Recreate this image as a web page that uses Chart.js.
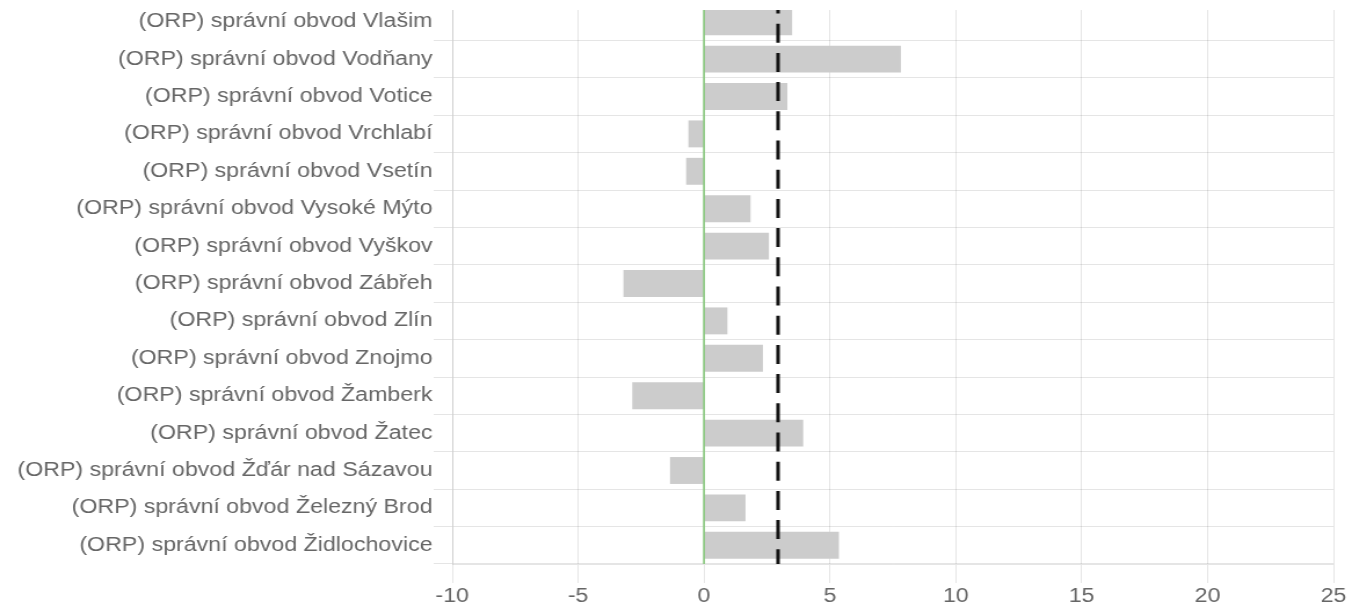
<!DOCTYPE html>
<html lang="cs">
<head>
  <meta charset="UTF-8">
  <title>ORP</title>
  <script src="https://cdn.jsdelivr.net/npm/chart.js"></script>
  <style>
    html, body { margin: 0; padding: 0; background: #fff; overflow: hidden; }
    .wrap { position: relative; width: 1352px; height: 611px; }
    /* graf je v originále vodorovně roztažený */
    #graf { display: block; width: 1352px; height: 611px; }
    .mask { position: absolute; left: 0; top: 0; width: 1352px; height: 10px; background: #fff; }
  </style>
</head>
<body>
<div class="wrap">
  <canvas id="graf" width="1166" height="611" style="width:1352px;height:611px"></canvas>
  <div class="mask"></div>
</div>

<script>
  const kategorie = [
    '(ORP) správní obvod Vlašim',
    '(ORP) správní obvod Vodňany',
    '(ORP) správní obvod Votice',
    '(ORP) správní obvod Vrchlabí',
    '(ORP) správní obvod Vsetín',
    '(ORP) správní obvod Vysoké Mýto',
    '(ORP) správní obvod Vyškov',
    '(ORP) správní obvod Zábřeh',
    '(ORP) správní obvod Zlín',
    '(ORP) správní obvod Znojmo',
    '(ORP) správní obvod Žamberk',
    '(ORP) správní obvod Žatec',
    '(ORP) správní obvod Žďár nad Sázavou',
    '(ORP) správní obvod Železný Brod',
    '(ORP) správní obvod Židlochovice'
  ];
  const hodnoty = [3.5, 7.82, 3.31, -0.62, -0.71, 1.85, 2.58, -3.2, 0.93, 2.34, -2.85, 3.94, -1.35, 1.65, 5.36];
  const prumer = 2.94;   // čárkovaná čára
  const nula = 0;        // zelená čára
  const osaX = { min: -10, max: 25, krok: 5 };

  const svisleCary = {
    id: 'svisleCary',
    afterDatasetsDraw(chart) {
      const { ctx, chartArea, scales } = chart;
      ctx.save();
      let x = scales.x.getPixelForValue(nula);
      ctx.strokeStyle = 'rgb(140, 200, 130)';
      ctx.lineWidth = 1.8;
      ctx.beginPath();
      ctx.moveTo(x, chartArea.top);
      ctx.lineTo(x, chartArea.bottom);
      ctx.stroke();

      x = scales.x.getPixelForValue(prumer);
      ctx.strokeStyle = '#151515';
      ctx.lineWidth = 3.1;
      ctx.setLineDash([19, 10.2]);
      ctx.lineDashOffset = 8.5;
      ctx.beginPath();
      ctx.moveTo(x, chartArea.top);
      ctx.lineTo(x, chartArea.bottom);
      ctx.stroke();
      ctx.restore();
    }
  };

  Chart.defaults.font.family = "'Liberation Sans', Arial, sans-serif";
  Chart.defaults.font.size = 20;
  Chart.defaults.color = '#666';

  new Chart(document.getElementById('graf'), {
    type: 'bar',
    data: {
      labels: kategorie,
      datasets: [{
        data: hodnoty,
        backgroundColor: 'rgb(204, 204, 204)',
        borderWidth: 0
      }]
    },
    options: {
      indexAxis: 'y',
      responsive: false,
      devicePixelRatio: 1,
      animation: false,
      layout: { padding: { top: 3, right: 16, bottom: 1, left: 0 } },
      plugins: { legend: { display: false }, tooltip: { enabled: false } },
      scales: {
        x: {
          min: osaX.min,
          max: osaX.max,
          ticks: { stepSize: osaX.krok, padding: 3, font: { size: 20, lineHeight: 1.05 } },
          grid: { color: 'rgba(0,0,0,0.1)', tickLength: 19 },
          border: { color: 'rgba(0,0,0,0.1)' }
        },
        y: {
          ticks: { padding: 1 },
          grid: { color: 'rgba(0,0,0,0.1)', tickLength: 16 },
          border: { color: 'rgba(0,0,0,0.1)' },
          afterFit(s) { s.width = 390; s.paddingTop = 0; s.paddingBottom = 0; }
        }
      }
    },
    plugins: [svisleCary]
  });
</script>
</body>
</html>
